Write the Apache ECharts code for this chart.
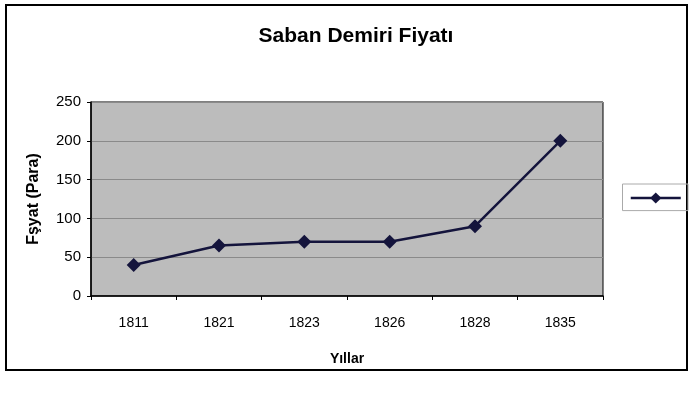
<!DOCTYPE html>
<html><head><meta charset="utf-8">
<script src="https://cdn.jsdelivr.net/npm/echarts@6/dist/echarts.min.js"></script>
<style>html,body{margin:0;padding:0;background:#fff}#c{width:692px;height:402px}</style>
</head><body><div id="c"></div>
<script>
const categories = ['1811','1821','1823','1826','1828','1835'];
const prices = [40, 65, 70, 70, 90, 200];
const seriesName = ' ';
const yTicks = {min:0, max:250, interval:50};

const chart = echarts.init(document.getElementById('c'));
const font = 'Liberation Sans, Arial, sans-serif';
chart.setOption({
  animation:false,
  backgroundColor:'#fff',
  graphic:[{type:'rect',shape:{x:6,y:5,width:681,height:365},style:{fill:'none',stroke:'#000',lineWidth:2},silent:true}],
  title:{text:'Saban Demiri Fiyatı',left:351,top:21,textAlign:'center',
    textStyle:{fontFamily:font,fontWeight:'bold',fontSize:21,color:'#000'}},
  legend:{data:[seriesName],right:4,top:184,itemWidth:50,itemHeight:14,
    borderColor:'#aaa',borderWidth:1,padding:[7,6,7,7],itemGap:0,
    formatter:()=>'',textStyle:{fontSize:1},
    itemStyle:{color:'#14143c'},lineStyle:{color:'#14143c',width:2.5}},
  grid:{left:91,right:89,top:102,bottom:106,show:true,backgroundColor:'#bcbcbc',borderColor:'#000',borderWidth:1},
  xAxis:{type:'category',data:categories,boundaryGap:true,
    name:'Yıllar',nameLocation:'middle',nameGap:56,
    nameTextStyle:{fontFamily:font,fontWeight:'bold',fontSize:14,color:'#000'},
    axisLine:{lineStyle:{color:'#000',width:1.5}},
    axisTick:{show:true,length:4,lineStyle:{color:'#000'}},
    axisLabel:{fontFamily:font,fontSize:14,color:'#000',margin:20}},
  yAxis:{type:'value',min:yTicks.min,max:yTicks.max,interval:yTicks.interval,
    name:'Fşyat (Para)',nameLocation:'middle',nameGap:49,
    nameTextStyle:{fontFamily:font,fontWeight:'bold',fontSize:16,color:'#000'},
    axisLine:{show:true,lineStyle:{color:'#000',width:1.5}},
    axisTick:{show:true,length:4,lineStyle:{color:'#000'}},
    axisLabel:{fontFamily:font,fontSize:15,color:'#000',margin:10},
    splitLine:{show:true,lineStyle:{color:'#8a8a8a',width:1}}},
  series:[{name:seriesName,type:'line',data:prices,
    symbol:'diamond',symbolSize:14,
    lineStyle:{color:'#14143c',width:2.5},
    itemStyle:{color:'#14143c'}}]
});
</script></body></html>
